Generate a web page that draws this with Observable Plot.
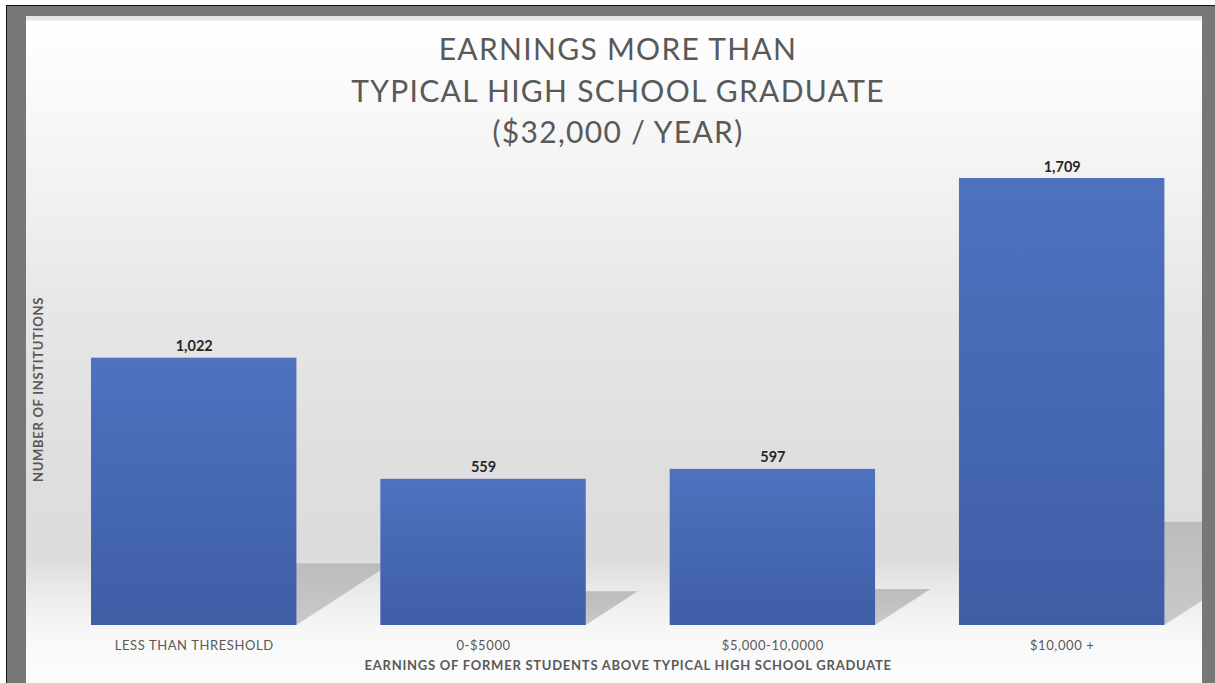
<!DOCTYPE html>
<html>
<head>
<meta charset="utf-8">
<script src="https://cdn.jsdelivr.net/npm/d3@7"></script>
<script src="https://cdn.jsdelivr.net/npm/@observablehq/plot@0.6"></script>
<style>
  html, body { margin: 0; padding: 0; background: #fff; }
  #page { position: relative; width: 1215px; height: 683px; overflow: hidden; background: #fff; }
  #frame { position: absolute; left: 6px; top: 5px; width: 1209px; height: 678px; background: #777;
           border-top: 1px solid #111; border-left: 1px solid #111; box-sizing: border-box; }
  #content { position: absolute; left: 26px; top: 16px; width: 1176px; height: 667px; overflow: hidden;
    background: linear-gradient(to bottom, #e6e6e6 0px, #e6e6e6 4px, #ffffff 5px, #f5f5f5 134px, #e7e7e7 284px,
      #dfdfdf 434px, #dcdcdc 540px, #eeeeee 585px, #f8f8f8 620px, #fcfcfc 667px); }
  #title { position: absolute; left: 4px; width: 1176px; top: 12px; text-align: center;
    font-family: Lato, "Open Sans", sans-serif; font-weight: 400; font-size: 30px; line-height: 41.5px;
    letter-spacing: 1.3px; color: #595959; }
  #chart { position: absolute; left: 0; top: 134px; }
  #chart svg g[aria-label="x-axis tick label"] text { letter-spacing: 0.6px; }
</style>
</head>
<body>
<div id="page">
  <div id="frame"></div>
  <div id="content">
    <div id="title"></div>
    <div id="chart"></div>
  </div>
</div>
<script>
// ---- data ----
const titleLines = ["EARNINGS MORE THAN", "TYPICAL HIGH SCHOOL GRADUATE", "($32,000 / YEAR)"];
const categories = ["LESS THAN THRESHOLD", "0-$5000", "$5,000-10,0000", "$10,000 +"];
const counts = [1022, 559, 597, 1709];
const xTitle = "EARNINGS OF FORMER STUDENTS ABOVE TYPICAL HIGH SCHOOL GRADUATE";
const yTitle = "NUMBER OF INSTITUTIONS";

const data = categories.map((c, i) => ({category: c, count: counts[i]}));
const fmt = d3.format(",");

document.getElementById("title").innerHTML = titleLines.join("<br>");

const plot = Plot.plot({
  width: 1176,
  height: 533,
  marginTop: 28,
  marginBottom: 58,
  marginLeft: 27.4,
  marginRight: 0,
  style: {background: "transparent", fontFamily: "Lato, 'Open Sans', sans-serif"},
  x: {domain: categories, paddingInner: 0.29, paddingOuter: 0.13, round: false, axis: null, label: null},
  y: {domain: [0, d3.max(counts)], axis: null, label: null},
  marks: [
    Plot.barY(data, {x: "category", y: "count", fill: "url(#barGrad)"}),
    Plot.text(data, {x: "category", y: "count", text: d => fmt(d.count), dy: -7, lineAnchor: "bottom",
      fontWeight: 700, fontSize: 14.5, fill: "#262626"}),
    Plot.axisX({tickSize: 0, tickPadding: 15, fontSize: 13, fill: "#595959", label: null}),
    Plot.text([xTitle], {frameAnchor: "bottom", dy: 44, lineAnchor: "bottom", textAnchor: "middle",
      fontWeight: 700, fontSize: 13, fill: "#595959"}),
    Plot.text([yTitle], {frameAnchor: "left", rotate: -90, dx: -15, dy: -12.5, lineAnchor: "middle", textAnchor: "middle",
      fontWeight: 700, fontSize: 13, fill: "#595959"})
  ]
});

// gradients
const svg = d3.select(plot);
const defs = svg.insert("defs", ":first-child");
const bg = defs.append("linearGradient").attr("id", "barGrad").attr("x1", 0).attr("y1", 0).attr("x2", 0).attr("y2", 1);
bg.append("stop").attr("offset", "0%").attr("stop-color", "#4f72bf");
bg.append("stop").attr("offset", "100%").attr("stop-color", "#3e5ea6");
const sg = defs.append("linearGradient").attr("id", "shadowGrad").attr("x1", 0).attr("y1", 0).attr("x2", 0).attr("y2", 1);
sg.append("stop").attr("offset", "0%").attr("stop-color", "#bcbcbc");
sg.append("stop").attr("offset", "100%").attr("stop-color", "#c9c9c9");

// perspective shadows derived from the rendered bars
const barGroup = svg.select('g[aria-label="bar"]');
const shadowG = svg.insert("g", () => barGroup.node()).attr("aria-label", "shadow");
barGroup.selectAll("rect").each(function () {
  const r = d3.select(this);
  const x = +r.attr("x"), y = +r.attr("y"), w = +r.attr("width"), h = +r.attr("height");
  const base = y + h, s = 0.231 * h, off = 0.355 * h;
  shadowG.append("path")
    .attr("d", `M${x},${base}L${x + w},${base}L${x + w + off},${base - s}L${x + off},${base - s}Z`)
    .attr("fill", "url(#shadowGrad)");
});

// letter spacing for the axis titles
const textGroups = plot.querySelectorAll('g[aria-label="text"]');
textGroups[1].querySelectorAll("text").forEach(t => t.style.letterSpacing = "0.75px");
textGroups[2].querySelectorAll("text").forEach(t => t.style.letterSpacing = "0.7px");

document.getElementById("chart").appendChild(plot);
</script>
</body>
</html>
